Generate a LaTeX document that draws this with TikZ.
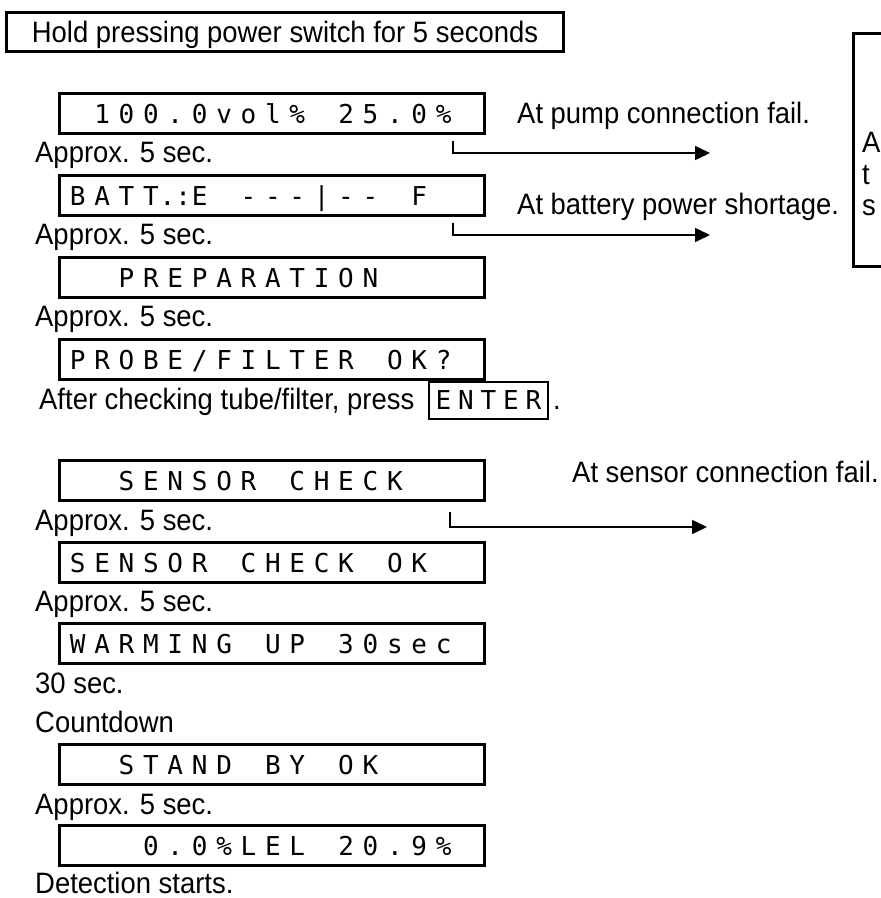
\documentclass[tikz,border=0pt]{standalone}
\usepackage{fontspec}
\setmainfont{Liberation Sans}[FakeStretch=0.93]
\newfontfamily\lcdfont{DejaVu Sans Mono}
\usetikzlibrary{arrows.meta,positioning,calc}
\makeatletter
\newcommand\lcd[2][24.4pt]{\@tfor\lcd@c:=#2\do{\makebox[#1]{\lcd@c}}}
\makeatother

\begin{document}
\begin{tikzpicture}[x=1pt,y=-1pt,
  txt/.style={font=\fontsize{29.5}{32}\selectfont,inner sep=0pt,anchor=base west},
  titlebox/.style={draw,line width=3pt,inner sep=0pt,anchor=north west,minimum width=557pt,minimum height=39pt,text height=21pt,text depth=0pt,font=\fontsize{29.5}{32}\selectfont},
  lcdbox/.style={draw,line width=3pt,inner xsep=6pt,inner ysep=0pt,anchor=north west,text width=413pt,align=left,minimum height=40pt,text height=19pt,text depth=0pt,font=\lcdfont\fontsize{26}{30}\selectfont},
  keybox/.style={draw,line width=1.8pt,inner sep=0pt,anchor=north west,minimum width=119pt,minimum height=37pt,text height=19pt,text depth=0pt,font=\lcdfont\fontsize{26}{30}\selectfont},
  failarrow/.style={line width=1.6pt,-{Triangle[length=15pt,width=14pt]}}]
\clip (0,0) rectangle (881,898);
\node[titlebox] (start) at (5,11) {Hold pressing power switch for 5 seconds};
\node[lcdbox] (disp1) at (58,92) {\lcd{~100.0vol\%~25.0\%}};
\node[txt] (pump) at (517,123) {At pump connection fail.};
\node[txt] (wait1) at (35,162) {Approx. 5 sec.};
\node[lcdbox] (disp2) at (58,174) {\lcd{BATT{.:}E~---|--~F~}};
\node[txt] (batt) at (517,214) {At battery power shortage.};
\node[txt] (wait2) at (35,244) {Approx. 5 sec.};
\node[lcdbox] (disp3) at (58,256) {\lcd{~~PREPARATION~~~}};
\node[txt] (wait3) at (35,326) {Approx. 5 sec.};
\node[lcdbox] (disp4) at (58,338) {\lcd{PROBE/FILTER~OK?}};
\node[txt] (check) at (39,409) {After checking tube/filter, press};
\node[keybox] (enter) at (428,381) {\lcd[22.5pt]{ENTER}};
\node[txt] (dot) at (553,409) {.};
\node[lcdbox] (disp5) at (58,459) {\lcd{~~SENSOR~CHECK~~}};
\node[txt] (sens) at (572,482) {At sensor connection fail.};
\node[txt] (wait4) at (35,530) {Approx. 5 sec.};
\node[lcdbox] (disp6) at (58,541) {\lcd{SENSOR~CHECK~OK~}};
\node[txt] (wait5) at (35,611) {Approx. 5 sec.};
\node[lcdbox] (disp7) at (58,622) {\lcd{WARMING~UP~30sec}};
\node[txt] (warm) at (35,693) {30 sec.};
\node[txt] (count) at (35,732) {Countdown};
\node[lcdbox] (disp8) at (58,743) {\lcd{~~STAND~BY~OK~~~}};
\node[txt] (wait6) at (35,814) {Approx. 5 sec.};
\node[lcdbox] (disp9) at (58,824) {\lcd{~~~0.0\%LEL~20.9\%}};
\node[txt] (go) at (35,893) {Detection starts.};
\draw[line width=3pt] (853,33) rectangle (900,266);
\node[txt] (noteA) at (862,152) {A};
\node[txt] (noteB) at (862,184) {t};
\node[txt] (noteC) at (862,215) {s};
\coordinate (pumpend) at (710,153);
\coordinate (battend) at (710,235);
\coordinate (sensend) at (707,527);
\draw[failarrow] ([xshift=-33pt,yshift=-6pt]disp1.south east) |- (pumpend);
\draw[failarrow] ([xshift=-33pt,yshift=-6pt]disp2.south east) |- (battend);
\draw[failarrow] ([xshift=-36pt,yshift=-10pt]disp5.south east) |- (sensend);
\end{tikzpicture}
\end{document}
